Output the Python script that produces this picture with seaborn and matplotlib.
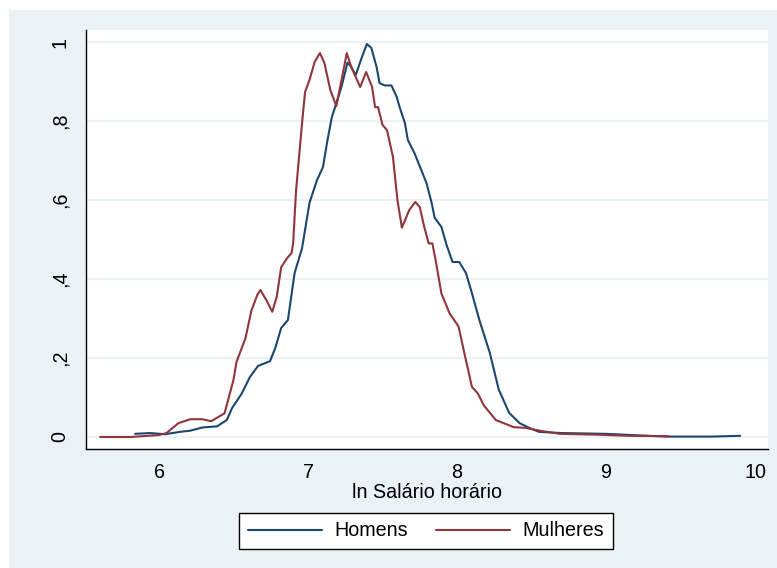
import matplotlib
matplotlib.use("Agg")
import matplotlib.pyplot as plt
from matplotlib.patches import Rectangle
from matplotlib.lines import Line2D
import seaborn as sns
import pandas as pd

# ---- data ----
men_x = [5.84, 5.94, 6.04, 6.14, 6.21, 6.29, 6.39, 6.43, 6.455, 6.49, 6.555, 6.61, 6.665,
         6.745, 6.78, 6.82, 6.865, 6.91, 6.96, 7.01, 7.06, 7.10, 7.13, 7.16, 7.19, 7.225,
         7.265, 7.29, 7.32, 7.36, 7.395, 7.425, 7.46, 7.48, 7.515, 7.56, 7.595, 7.615, 7.65,
         7.67, 7.715, 7.76, 7.795, 7.83, 7.85, 7.895, 7.93, 7.97, 8.015, 8.06, 8.10, 8.15,
         8.22, 8.28, 8.35, 8.42, 8.485, 8.55, 8.70, 9.0, 9.22, 9.42, 9.71, 9.90]
men_y = [0.008, 0.01, 0.007, 0.013, 0.016, 0.024, 0.027, 0.037, 0.043, 0.073, 0.11, 0.152, 0.18,
         0.192, 0.225, 0.276, 0.296, 0.415, 0.478, 0.593, 0.65, 0.683, 0.75, 0.81, 0.845, 0.887,
         0.948, 0.937, 0.916, 0.96, 0.995, 0.985, 0.937, 0.896, 0.89, 0.89, 0.861, 0.835, 0.795,
         0.752, 0.718, 0.676, 0.643, 0.592, 0.555, 0.532, 0.486, 0.443, 0.443, 0.415, 0.364, 0.296,
         0.213, 0.12, 0.061, 0.035, 0.023, 0.013, 0.01, 0.008, 0.004, 0.001, 0.001, 0.003]

women_x = [5.605, 5.81, 6.0, 6.05, 6.13, 6.21, 6.29, 6.35, 6.44, 6.50, 6.52, 6.58, 6.62, 6.66,
           6.68, 6.72, 6.76, 6.79, 6.82, 6.86, 6.89, 6.90, 6.92, 6.96, 6.98, 7.01, 7.045, 7.08,
           7.11, 7.15, 7.19, 7.225, 7.26, 7.29, 7.35, 7.39, 7.43, 7.45, 7.47, 7.50, 7.53, 7.57,
           7.60, 7.63, 7.68, 7.72, 7.75, 7.78, 7.81, 7.835, 7.86, 7.895, 7.95, 8.01, 8.04, 8.10,
           8.14, 8.18, 8.26, 8.38, 8.46, 8.57, 8.69, 8.93, 9.15, 9.42]
women_y = [0.0, 0.0, 0.005, 0.01, 0.035, 0.045, 0.045, 0.04, 0.06, 0.145, 0.19, 0.25, 0.32, 0.36,
           0.372, 0.347, 0.317, 0.355, 0.43, 0.453, 0.466, 0.49, 0.625, 0.795, 0.873, 0.904, 0.95, 0.972,
           0.947, 0.878, 0.838, 0.904, 0.972, 0.937, 0.886, 0.924, 0.886, 0.835, 0.835, 0.79, 0.777, 0.709,
           0.60, 0.53, 0.575, 0.595, 0.582, 0.532, 0.49, 0.49, 0.44, 0.364, 0.313, 0.28, 0.228, 0.127,
           0.11, 0.08, 0.043, 0.025, 0.023, 0.015, 0.008, 0.006, 0.003, 0.002]

series_names = ["Homens", "Mulheres"]
x_ticks = [6, 7, 8, 9, 10]
y_ticks = [0, 0.2, 0.4, 0.6, 0.8, 1.0]
y_tick_labels = ["0", ",2", ",4", ",6", ",8", "1"]
x_label = "ln Salário horário"

df = pd.concat([
    pd.DataFrame({"x": men_x, "y": men_y, "grupo": series_names[0]}),
    pd.DataFrame({"x": women_x, "y": women_y, "grupo": series_names[1]}),
], ignore_index=True)

# ---- styling ----
sns.set_style("white")
plt.rcParams["font.family"] = ["Liberation Sans", "DejaVu Sans"]
plt.rcParams["text.color"] = "black"

BG = "#EAF2F3"
colors = {"Homens": "#1A476F", "Mulheres": "#90353B"}
FS = 14.2

fig = plt.figure(figsize=(7.77, 5.68), dpi=100, facecolor="white")
fig.patches.append(Rectangle((9 / 777, 0), 1 - 9 / 777, 1 - 10 / 568,
                             transform=fig.transFigure, facecolor=BG,
                             edgecolor="none", zorder=-10))

ax = fig.add_axes([86 / 777, 1 - 449 / 568, (768 - 86) / 777, (449 - 30) / 568])
ax.set_zorder(1)
ax.set_facecolor("white")

sns.lineplot(data=df, x="x", y="y", hue="grupo", palette=colors, estimator=None,
             sort=False, linewidth=1.5, ax=ax, legend=False)

ax.set_xlim(5.51, 10.087)
ax.set_ylim(-0.0304, 1.0304)
ax.set_xticks(x_ticks)
ax.set_xticklabels([str(t) for t in x_ticks])
ax.set_yticks(y_ticks)
ax.set_yticklabels(y_tick_labels, rotation=90, va="center")

for yt in y_ticks:
    ax.axhline(yt, color=BG, linewidth=1.6, zorder=0)

for s in ["top", "right"]:
    ax.spines[s].set_visible(False)
for s in ["left", "bottom"]:
    ax.spines[s].set_color("black")
    ax.spines[s].set_linewidth(1.0)

ax.tick_params(axis="both", which="major", direction="out", length=6, width=1,
               color="black", labelsize=FS, labelcolor="black")
ax.tick_params(axis="y", pad=6)
ax.tick_params(axis="x", pad=4)

ax.set_xlabel(x_label, fontsize=FS, labelpad=1, color="black")
ax.set_ylabel("")

handles = [Line2D([0], [0], color=colors[n], linewidth=1.5) for n in series_names]
leg = fig.legend(handles, series_names, loc="center",
                 bbox_to_anchor=(426 / 777, 1 - 531 / 568), ncol=2,
                 frameon=True, fancybox=False, edgecolor="black", facecolor="white",
                 fontsize=FS, handlelength=3.75, handletextpad=0.6,
                 columnspacing=1.47, borderpad=0.45, framealpha=1)
leg.get_frame().set_linewidth(1.0)
leg.set_zorder(2)

fig.savefig("out.png", dpi=100, facecolor="white")
